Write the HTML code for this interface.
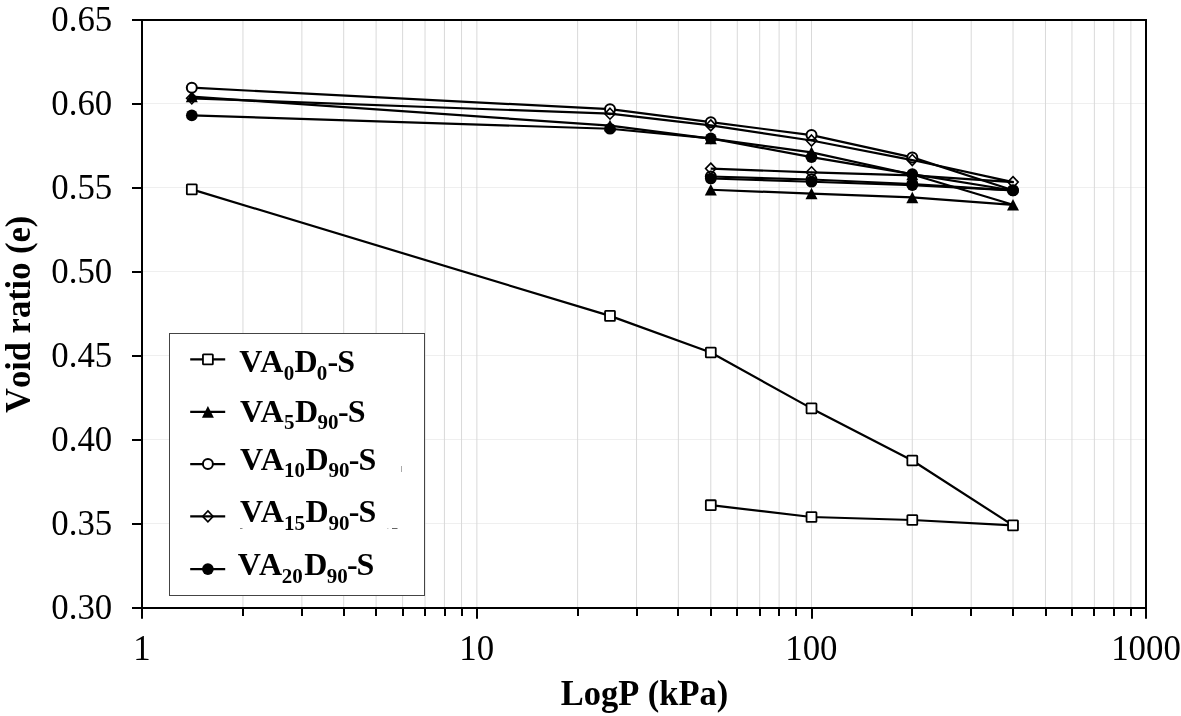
<!DOCTYPE html><html><head><meta charset="utf-8"><style>html,body{margin:0;padding:0;background:#fff;}svg{display:block;filter:grayscale(1);}text{font-family:"Liberation Serif",serif;font-kerning:none;}</style></head><body>
<svg width="1181" height="716" viewBox="0 0 1181 716">
<rect x="0" y="0" width="1181" height="716" fill="#fff"/>
<line x1="142.0" y1="103.5" x2="1146.0" y2="103.5" stroke="#efefef" stroke-width="1"/>
<line x1="142.0" y1="187.5" x2="1146.0" y2="187.5" stroke="#efefef" stroke-width="1"/>
<line x1="142.0" y1="271.5" x2="1146.0" y2="271.5" stroke="#efefef" stroke-width="1"/>
<line x1="142.0" y1="355.5" x2="1146.0" y2="355.5" stroke="#efefef" stroke-width="1"/>
<line x1="142.0" y1="439.5" x2="1146.0" y2="439.5" stroke="#efefef" stroke-width="1"/>
<line x1="142.0" y1="523.5" x2="1146.0" y2="523.5" stroke="#efefef" stroke-width="1"/>
<line x1="242.94" y1="20.0" x2="242.94" y2="608.0" stroke="#d9d9d9" stroke-width="1"/>
<line x1="301.88" y1="20.0" x2="301.88" y2="608.0" stroke="#d9d9d9" stroke-width="1"/>
<line x1="343.69" y1="20.0" x2="343.69" y2="608.0" stroke="#d9d9d9" stroke-width="1"/>
<line x1="376.12" y1="20.0" x2="376.12" y2="608.0" stroke="#d9d9d9" stroke-width="1"/>
<line x1="402.62" y1="20.0" x2="402.62" y2="608.0" stroke="#d9d9d9" stroke-width="1"/>
<line x1="425.03" y1="20.0" x2="425.03" y2="608.0" stroke="#d9d9d9" stroke-width="1"/>
<line x1="444.43" y1="20.0" x2="444.43" y2="608.0" stroke="#d9d9d9" stroke-width="1"/>
<line x1="461.55" y1="20.0" x2="461.55" y2="608.0" stroke="#d9d9d9" stroke-width="1"/>
<line x1="476.87" y1="20.0" x2="476.87" y2="608.0" stroke="#d9d9d9" stroke-width="1"/>
<line x1="577.61" y1="20.0" x2="577.61" y2="608.0" stroke="#d9d9d9" stroke-width="1"/>
<line x1="636.54" y1="20.0" x2="636.54" y2="608.0" stroke="#d9d9d9" stroke-width="1"/>
<line x1="678.36" y1="20.0" x2="678.36" y2="608.0" stroke="#d9d9d9" stroke-width="1"/>
<line x1="710.79" y1="20.0" x2="710.79" y2="608.0" stroke="#d9d9d9" stroke-width="1"/>
<line x1="737.29" y1="20.0" x2="737.29" y2="608.0" stroke="#d9d9d9" stroke-width="1"/>
<line x1="759.69" y1="20.0" x2="759.69" y2="608.0" stroke="#d9d9d9" stroke-width="1"/>
<line x1="779.10" y1="20.0" x2="779.10" y2="608.0" stroke="#d9d9d9" stroke-width="1"/>
<line x1="796.22" y1="20.0" x2="796.22" y2="608.0" stroke="#d9d9d9" stroke-width="1"/>
<line x1="811.53" y1="20.0" x2="811.53" y2="608.0" stroke="#d9d9d9" stroke-width="1"/>
<line x1="912.28" y1="20.0" x2="912.28" y2="608.0" stroke="#d9d9d9" stroke-width="1"/>
<line x1="971.21" y1="20.0" x2="971.21" y2="608.0" stroke="#d9d9d9" stroke-width="1"/>
<line x1="1013.02" y1="20.0" x2="1013.02" y2="608.0" stroke="#d9d9d9" stroke-width="1"/>
<line x1="1045.46" y1="20.0" x2="1045.46" y2="608.0" stroke="#d9d9d9" stroke-width="1"/>
<line x1="1071.95" y1="20.0" x2="1071.95" y2="608.0" stroke="#d9d9d9" stroke-width="1"/>
<line x1="1094.36" y1="20.0" x2="1094.36" y2="608.0" stroke="#d9d9d9" stroke-width="1"/>
<line x1="1113.77" y1="20.0" x2="1113.77" y2="608.0" stroke="#d9d9d9" stroke-width="1"/>
<line x1="1130.89" y1="20.0" x2="1130.89" y2="608.0" stroke="#d9d9d9" stroke-width="1"/>
<rect x="142.0" y="20.0" width="1004.0" height="588.0" fill="none" stroke="#000" stroke-width="2"/>
<line x1="132" y1="20.0" x2="142.0" y2="20.0" stroke="#000" stroke-width="2"/>
<line x1="132" y1="104.0" x2="142.0" y2="104.0" stroke="#000" stroke-width="2"/>
<line x1="132" y1="188.0" x2="142.0" y2="188.0" stroke="#000" stroke-width="2"/>
<line x1="132" y1="272.0" x2="142.0" y2="272.0" stroke="#000" stroke-width="2"/>
<line x1="132" y1="356.0" x2="142.0" y2="356.0" stroke="#000" stroke-width="2"/>
<line x1="132" y1="440.0" x2="142.0" y2="440.0" stroke="#000" stroke-width="2"/>
<line x1="132" y1="524.0" x2="142.0" y2="524.0" stroke="#000" stroke-width="2"/>
<line x1="132" y1="608.0" x2="142.0" y2="608.0" stroke="#000" stroke-width="2"/>
<line x1="142" y1="608.0" x2="142" y2="618.7" stroke="#000" stroke-width="2"/>
<line x1="243" y1="608.0" x2="243" y2="616.0" stroke="#000" stroke-width="2"/>
<line x1="302" y1="608.0" x2="302" y2="616.0" stroke="#000" stroke-width="2"/>
<line x1="344" y1="608.0" x2="344" y2="616.0" stroke="#000" stroke-width="2"/>
<line x1="376" y1="608.0" x2="376" y2="616.0" stroke="#000" stroke-width="2"/>
<line x1="403" y1="608.0" x2="403" y2="616.0" stroke="#000" stroke-width="2"/>
<line x1="425" y1="608.0" x2="425" y2="616.0" stroke="#000" stroke-width="2"/>
<line x1="445" y1="608.0" x2="445" y2="616.0" stroke="#000" stroke-width="2"/>
<line x1="462" y1="608.0" x2="462" y2="616.0" stroke="#000" stroke-width="2"/>
<line x1="477" y1="608.0" x2="477" y2="618.7" stroke="#000" stroke-width="2"/>
<line x1="578" y1="608.0" x2="578" y2="616.0" stroke="#000" stroke-width="2"/>
<line x1="637" y1="608.0" x2="637" y2="616.0" stroke="#000" stroke-width="2"/>
<line x1="678" y1="608.0" x2="678" y2="616.0" stroke="#000" stroke-width="2"/>
<line x1="711" y1="608.0" x2="711" y2="616.0" stroke="#000" stroke-width="2"/>
<line x1="737" y1="608.0" x2="737" y2="616.0" stroke="#000" stroke-width="2"/>
<line x1="760" y1="608.0" x2="760" y2="616.0" stroke="#000" stroke-width="2"/>
<line x1="779" y1="608.0" x2="779" y2="616.0" stroke="#000" stroke-width="2"/>
<line x1="796" y1="608.0" x2="796" y2="616.0" stroke="#000" stroke-width="2"/>
<line x1="812" y1="608.0" x2="812" y2="618.7" stroke="#000" stroke-width="2"/>
<line x1="912" y1="608.0" x2="912" y2="616.0" stroke="#000" stroke-width="2"/>
<line x1="971" y1="608.0" x2="971" y2="616.0" stroke="#000" stroke-width="2"/>
<line x1="1013" y1="608.0" x2="1013" y2="616.0" stroke="#000" stroke-width="2"/>
<line x1="1046" y1="608.0" x2="1046" y2="616.0" stroke="#000" stroke-width="2"/>
<line x1="1072" y1="608.0" x2="1072" y2="616.0" stroke="#000" stroke-width="2"/>
<line x1="1094" y1="608.0" x2="1094" y2="616.0" stroke="#000" stroke-width="2"/>
<line x1="1114" y1="608.0" x2="1114" y2="616.0" stroke="#000" stroke-width="2"/>
<line x1="1131" y1="608.0" x2="1131" y2="616.0" stroke="#000" stroke-width="2"/>
<line x1="1146" y1="608.0" x2="1146" y2="618.7" stroke="#000" stroke-width="2"/>
<text transform="translate(112.2 31.3) scale(1 1.05)" font-size="34.8" text-anchor="end">0.65</text>
<text transform="translate(112.2 115.3) scale(1 1.05)" font-size="34.8" text-anchor="end">0.60</text>
<text transform="translate(112.2 199.3) scale(1 1.05)" font-size="34.8" text-anchor="end">0.55</text>
<text transform="translate(112.2 283.3) scale(1 1.05)" font-size="34.8" text-anchor="end">0.50</text>
<text transform="translate(112.2 367.3) scale(1 1.05)" font-size="34.8" text-anchor="end">0.45</text>
<text transform="translate(112.2 451.3) scale(1 1.05)" font-size="34.8" text-anchor="end">0.40</text>
<text transform="translate(112.2 535.3) scale(1 1.05)" font-size="34.8" text-anchor="end">0.35</text>
<text transform="translate(112.2 619.3) scale(1 1.05)" font-size="34.8" text-anchor="end">0.30</text>
<text transform="translate(142.00 659.8) scale(1 1.05)" font-size="34.8" text-anchor="middle">1</text>
<text transform="translate(476.67 659.8) scale(1 1.05)" font-size="34.8" text-anchor="middle">10</text>
<text transform="translate(811.33 659.8) scale(1 1.05)" font-size="34.8" text-anchor="middle">100</text>
<text transform="translate(1146.00 659.8) scale(1 1.05)" font-size="34.8" text-anchor="middle">1000</text>
<text transform="translate(644.5 705.2) scale(1 1.045)" font-size="34.5" font-weight="bold" text-anchor="middle">LogP (kPa)</text>
<text transform="translate(29.6 314.3) rotate(-90) scale(1 1.045)" x="0" y="0" font-size="34.5" font-weight="bold" text-anchor="middle">Void ratio (e)</text>
<polyline points="191.80,189.40 610.00,315.90 710.80,352.50 811.50,408.40 912.30,460.50 1013.00,525.40 912.30,520.00 811.50,517.00 710.80,505.20" fill="none" stroke="#000" stroke-width="2.2" stroke-linejoin="round"/>
<rect x="186.85" y="184.45" width="9.90" height="9.90" rx="0.6" fill="#fff" stroke="#000" stroke-width="1.80"/>
<rect x="605.05" y="310.95" width="9.90" height="9.90" rx="0.6" fill="#fff" stroke="#000" stroke-width="1.80"/>
<rect x="705.85" y="347.55" width="9.90" height="9.90" rx="0.6" fill="#fff" stroke="#000" stroke-width="1.80"/>
<rect x="806.55" y="403.45" width="9.90" height="9.90" rx="0.6" fill="#fff" stroke="#000" stroke-width="1.80"/>
<rect x="907.35" y="455.55" width="9.90" height="9.90" rx="0.6" fill="#fff" stroke="#000" stroke-width="1.80"/>
<rect x="1008.05" y="520.45" width="9.90" height="9.90" rx="0.6" fill="#fff" stroke="#000" stroke-width="1.80"/>
<rect x="907.35" y="515.05" width="9.90" height="9.90" rx="0.6" fill="#fff" stroke="#000" stroke-width="1.80"/>
<rect x="806.55" y="512.05" width="9.90" height="9.90" rx="0.6" fill="#fff" stroke="#000" stroke-width="1.80"/>
<rect x="705.85" y="500.25" width="9.90" height="9.90" rx="0.6" fill="#fff" stroke="#000" stroke-width="1.80"/>
<polyline points="191.80,96.60 610.00,125.60 710.80,138.60 811.50,152.40 912.30,174.50 1013.00,204.80 912.30,197.45 811.50,193.60 710.80,189.75" fill="none" stroke="#000" stroke-width="2.2" stroke-linejoin="round"/>
<path d="M191.80,90.80 L197.80,102.35 L185.80,102.35 Z" fill="#000"/>
<path d="M610.00,119.80 L616.00,131.35 L604.00,131.35 Z" fill="#000"/>
<path d="M710.80,132.80 L716.80,144.35 L704.80,144.35 Z" fill="#000"/>
<path d="M811.50,146.60 L817.50,158.15 L805.50,158.15 Z" fill="#000"/>
<path d="M912.30,168.70 L918.30,180.25 L906.30,180.25 Z" fill="#000"/>
<path d="M1013.00,199.00 L1019.00,210.55 L1007.00,210.55 Z" fill="#000"/>
<path d="M912.30,191.65 L918.30,203.20 L906.30,203.20 Z" fill="#000"/>
<path d="M811.50,187.80 L817.50,199.35 L805.50,199.35 Z" fill="#000"/>
<path d="M710.80,183.95 L716.80,195.50 L704.80,195.50 Z" fill="#000"/>
<polyline points="191.80,87.70 610.00,109.20 710.80,122.20 811.50,135.10 912.30,157.40 1013.00,190.30 912.30,184.00 811.50,179.50 710.80,176.50" fill="none" stroke="#000" stroke-width="2.2" stroke-linejoin="round"/>
<circle cx="191.80" cy="87.70" r="5.00" fill="#fff" stroke="#000" stroke-width="2.00"/>
<circle cx="610.00" cy="109.20" r="5.00" fill="#fff" stroke="#000" stroke-width="2.00"/>
<circle cx="710.80" cy="122.20" r="5.00" fill="#fff" stroke="#000" stroke-width="2.00"/>
<circle cx="811.50" cy="135.10" r="5.00" fill="#fff" stroke="#000" stroke-width="2.00"/>
<circle cx="912.30" cy="157.40" r="5.00" fill="#fff" stroke="#000" stroke-width="2.00"/>
<circle cx="1013.00" cy="190.30" r="5.00" fill="#fff" stroke="#000" stroke-width="2.00"/>
<circle cx="912.30" cy="184.00" r="5.00" fill="#fff" stroke="#000" stroke-width="2.00"/>
<circle cx="811.50" cy="179.50" r="5.00" fill="#fff" stroke="#000" stroke-width="2.00"/>
<circle cx="710.80" cy="176.50" r="5.00" fill="#fff" stroke="#000" stroke-width="2.00"/>
<polyline points="191.80,98.30 610.00,113.70 710.80,125.40 811.50,140.50 912.30,160.05 1013.00,182.10 912.30,175.30 811.50,172.30 710.80,168.60" fill="none" stroke="#000" stroke-width="2.2" stroke-linejoin="round"/>
<path d="M191.80,92.80 L197.00,98.30 L191.80,103.80 L186.60,98.30 Z" fill="none" stroke="#000" stroke-width="1.60" stroke-linejoin="miter"/>
<path d="M610.00,108.20 L615.20,113.70 L610.00,119.20 L604.80,113.70 Z" fill="none" stroke="#000" stroke-width="1.60" stroke-linejoin="miter"/>
<path d="M710.80,119.90 L716.00,125.40 L710.80,130.90 L705.60,125.40 Z" fill="none" stroke="#000" stroke-width="1.60" stroke-linejoin="miter"/>
<path d="M811.50,135.00 L816.70,140.50 L811.50,146.00 L806.30,140.50 Z" fill="none" stroke="#000" stroke-width="1.60" stroke-linejoin="miter"/>
<path d="M912.30,154.55 L917.50,160.05 L912.30,165.55 L907.10,160.05 Z" fill="none" stroke="#000" stroke-width="1.60" stroke-linejoin="miter"/>
<path d="M1013.00,176.60 L1018.20,182.10 L1013.00,187.60 L1007.80,182.10 Z" fill="none" stroke="#000" stroke-width="1.60" stroke-linejoin="miter"/>
<path d="M912.30,169.80 L917.50,175.30 L912.30,180.80 L907.10,175.30 Z" fill="none" stroke="#000" stroke-width="1.60" stroke-linejoin="miter"/>
<path d="M811.50,166.80 L816.70,172.30 L811.50,177.80 L806.30,172.30 Z" fill="none" stroke="#000" stroke-width="1.60" stroke-linejoin="miter"/>
<path d="M710.80,163.10 L716.00,168.60 L710.80,174.10 L705.60,168.60 Z" fill="none" stroke="#000" stroke-width="1.60" stroke-linejoin="miter"/>
<polyline points="191.80,115.40 610.00,128.75 710.80,138.30 811.50,157.15 912.30,174.10 1013.00,190.50 912.30,185.10 811.50,181.75 710.80,178.50" fill="none" stroke="#000" stroke-width="2.2" stroke-linejoin="round"/>
<circle cx="191.80" cy="115.40" r="5.85" fill="#000"/>
<circle cx="610.00" cy="128.75" r="5.85" fill="#000"/>
<circle cx="710.80" cy="138.30" r="5.85" fill="#000"/>
<circle cx="811.50" cy="157.15" r="5.85" fill="#000"/>
<circle cx="912.30" cy="174.10" r="5.85" fill="#000"/>
<circle cx="1013.00" cy="190.50" r="5.85" fill="#000"/>
<circle cx="912.30" cy="185.10" r="5.85" fill="#000"/>
<circle cx="811.50" cy="181.75" r="5.85" fill="#000"/>
<circle cx="710.80" cy="178.50" r="5.85" fill="#000"/>
<rect x="169.5" y="333.5" width="255" height="262" fill="#fff" stroke="#444" stroke-width="1"/>
<line x1="190.2" y1="359.40" x2="225.2" y2="359.40" stroke="#000" stroke-width="2.1"/>
<rect x="202.95" y="354.45" width="9.90" height="9.90" rx="0.6" fill="#fff" stroke="#000" stroke-width="1.80"/>
<text x="239.15" y="371.70" font-size="32.0" font-weight="bold">V</text>
<text x="260.20" y="371.70" font-size="32.0" font-weight="bold">A</text>
<text x="283.70" y="379.80" font-size="21.0" font-weight="bold">0</text>
<text x="294.42" y="371.70" font-size="32.0" font-weight="bold">D</text>
<text x="316.80" y="379.80" font-size="21.0" font-weight="bold">0</text>
<text x="327.42" y="371.70" font-size="32.0" font-weight="bold">-</text>
<text x="337.30" y="371.70" font-size="32.0" font-weight="bold">S</text>
<line x1="190.2" y1="411.90" x2="225.2" y2="411.90" stroke="#000" stroke-width="2.1"/>
<path d="M207.90,406.10 L213.90,417.65 L201.90,417.65 Z" fill="#000"/>
<text x="239.95" y="421.70" font-size="32.0" font-weight="bold">V</text>
<text x="260.40" y="421.70" font-size="32.0" font-weight="bold">A</text>
<text x="283.96" y="429.00" font-size="21.0" font-weight="bold">5</text>
<text x="294.92" y="421.70" font-size="32.0" font-weight="bold">D</text>
<text x="317.43" y="429.00" font-size="21.0" font-weight="bold">90</text>
<text x="338.12" y="421.70" font-size="32.0" font-weight="bold">-</text>
<text x="347.70" y="421.70" font-size="32.0" font-weight="bold">S</text>
<line x1="190.2" y1="464.10" x2="225.2" y2="464.10" stroke="#000" stroke-width="2.1"/>
<circle cx="207.90" cy="464.10" r="5.00" fill="#fff" stroke="#000" stroke-width="2.00"/>
<text x="239.95" y="469.70" font-size="32.0" font-weight="bold">V</text>
<text x="260.70" y="469.70" font-size="32.0" font-weight="bold">A</text>
<text x="284.12" y="476.90" font-size="21.0" font-weight="bold">10</text>
<text x="305.52" y="469.70" font-size="32.0" font-weight="bold">D</text>
<text x="328.43" y="476.90" font-size="21.0" font-weight="bold">90</text>
<text x="348.82" y="469.70" font-size="32.0" font-weight="bold">-</text>
<text x="358.40" y="469.70" font-size="32.0" font-weight="bold">S</text>
<line x1="190.2" y1="516.40" x2="225.2" y2="516.40" stroke="#000" stroke-width="2.1"/>
<path d="M207.90,510.90 L213.10,516.40 L207.90,521.90 L202.70,516.40 Z" fill="none" stroke="#000" stroke-width="1.60" stroke-linejoin="miter"/>
<text x="239.95" y="521.70" font-size="32.0" font-weight="bold">V</text>
<text x="260.70" y="521.70" font-size="32.0" font-weight="bold">A</text>
<text x="284.12" y="529.90" font-size="21.0" font-weight="bold">15</text>
<text x="305.52" y="521.70" font-size="32.0" font-weight="bold">D</text>
<text x="328.43" y="529.90" font-size="21.0" font-weight="bold">90</text>
<text x="348.82" y="521.70" font-size="32.0" font-weight="bold">-</text>
<text x="358.40" y="521.70" font-size="32.0" font-weight="bold">S</text>
<line x1="190.2" y1="569.10" x2="225.2" y2="569.10" stroke="#000" stroke-width="2.1"/>
<circle cx="207.90" cy="569.10" r="5.85" fill="#000"/>
<text x="237.85" y="574.80" font-size="32.0" font-weight="bold">V</text>
<text x="258.90" y="574.80" font-size="32.0" font-weight="bold">A</text>
<text x="281.82" y="582.70" font-size="21.0" font-weight="bold">20</text>
<text x="304.32" y="574.80" font-size="32.0" font-weight="bold">D</text>
<text x="326.63" y="582.70" font-size="21.0" font-weight="bold">90</text>
<text x="346.92" y="574.80" font-size="32.0" font-weight="bold">-</text>
<text x="356.60" y="574.80" font-size="32.0" font-weight="bold">S</text>
<line x1="401.5" y1="466" x2="401.5" y2="472" stroke="#aaa" stroke-width="1"/>
<line x1="392" y1="528.5" x2="397.5" y2="528.5" stroke="#666" stroke-width="1"/>
<line x1="387" y1="528.5" x2="388.5" y2="528.5" stroke="#ccc" stroke-width="1"/>
<line x1="240" y1="528.5" x2="242.5" y2="528.5" stroke="#888" stroke-width="1"/>
</svg></body></html>
